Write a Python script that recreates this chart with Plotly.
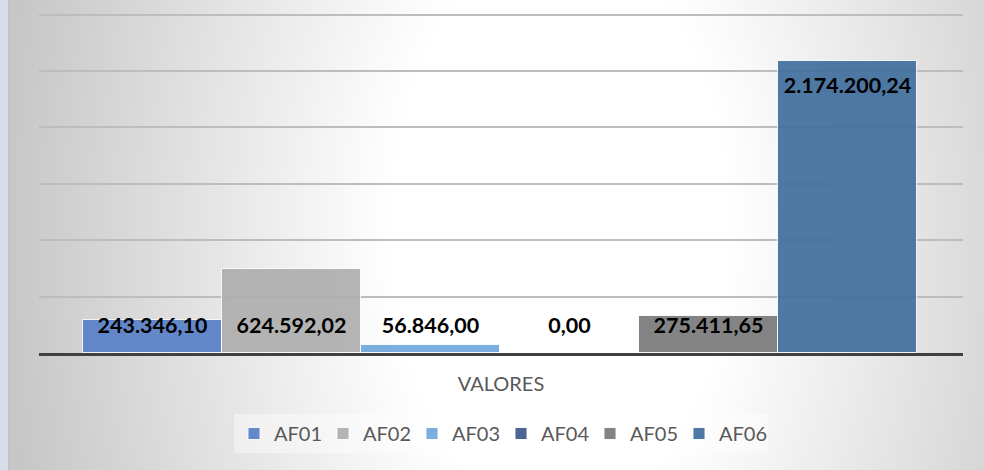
import base64
import plotly.graph_objects as go

# ---- data ----
series_names = ["AF01", "AF02", "AF03", "AF04", "AF05", "AF06"]
series_values = [243346.10, 624592.02, 56846.00, 0.00, 275411.65, 2174200.24]
category_label = "VALORES"
series_colors = ["#5A82C8", "#AFAFAF", "#71A8DC", "#41598A", "#7B7B7B", "#41709E"]

def br_format(v):
    s = f"{v:,.2f}"
    return s.replace(",", "X").replace(".", ",").replace("X", ".")

W, H = 984, 470
ML, MR, MT, MB = 39, 21, 10, 117
PW, PH = W - ML - MR, H - MT - MB

DTICK = 420000
PX_PER_UNIT = 338.4 / (6 * DTICK)
Y_MAX = PH / PX_PER_UNIT

# background (radial grey gradient + left strip) as an inline SVG
svg = f'''<svg xmlns="http://www.w3.org/2000/svg" width="{W}" height="{H}" viewBox="0 0 {W} {H}">
<defs><radialGradient id="g" gradientUnits="userSpaceOnUse" cx="560" cy="230" r="560"
 gradientTransform="translate(560 230) scale(1 1.7) translate(-560 -230)">
<stop offset="0" stop-color="#ffffff"/><stop offset="0.3" stop-color="#ffffff"/>
<stop offset="1" stop-color="#c6c6c6"/></radialGradient></defs>
<rect x="0" y="0" width="{W}" height="{H}" fill="url(#g)"/>
<rect x="0" y="0" width="8" height="{H}" fill="#d5dde8"/>
<rect x="8" y="0" width="1.5" height="{H}" fill="#c2c2c2"/>
</svg>'''
bg_uri = "data:image/svg+xml;base64," + base64.b64encode(svg.encode()).decode()

fig = go.Figure()
for i, (name, val, col) in enumerate(zip(series_names, series_values, series_colors)):
    fig.add_trace(go.Bar(
        x=[i], y=[val], name=name, width=1,
        marker=dict(color=col, line=dict(color="rgba(255,255,255,0.9)", width=1)),
        opacity=0.93, hoverinfo="name+y",
    ))

# data labels: inside end for tall bars, near the base otherwise
label_y = []
for v in series_values:
    if v > 1_000_000:
        label_y.append(v - 27 / PX_PER_UNIT)
    else:
        label_y.append(25 / PX_PER_UNIT)
fig.add_trace(go.Scatter(
    x=list(range(len(series_values))), y=label_y, mode="text",
    text=[br_format(v) for v in series_values],
    textfont=dict(family="Lato", size=21.5, color="#000000", weight=700),
    textposition="middle center", showlegend=False, hoverinfo="skip",
    cliponaxis=False,
))

fig.update_layout(
    width=W, height=H,
    margin=dict(l=ML, r=MR, t=MT, b=MB, pad=0),
    paper_bgcolor="#d0d0d0",
    plot_bgcolor="rgba(0,0,0,0)",
    barmode="overlay",
    bargap=0,
    images=[dict(
        source=bg_uri, xref="paper", yref="paper",
        x=-ML / PW, y=1 + MT / PH, sizex=W / PW, sizey=H / PH,
        xanchor="left", yanchor="top", sizing="stretch", layer="below",
    )],
    xaxis=dict(
        range=[-0.817, 5.831], showgrid=False, zeroline=False,
        showticklabels=False, ticks="",
        showline=True, linecolor="#404040", linewidth=3,
        title=dict(text=category_label, standoff=22,
                   font=dict(family="Lato", size=20, color="#595959")),
    ),
    yaxis=dict(
        range=[0, Y_MAX], dtick=DTICK, tick0=0,
        showgrid=True, gridcolor="#bdbdbd", gridwidth=2,
        zeroline=False, showticklabels=False, ticks="", showline=False,
    ),
    legend=dict(
        orientation="h", x=0.5, xanchor="center",
        y=(353 - 414) / PH, yanchor="top",
        bgcolor="rgba(255,255,255,0.4)",
        font=dict(family="Lato", size=20, color="#595959"),
        traceorder="normal", entrywidth=44,
    ),
    showlegend=True,
)

fig.write_html("out.html", config={"displayModeBar": False},
               post_script="document.body.style.margin='0';")
